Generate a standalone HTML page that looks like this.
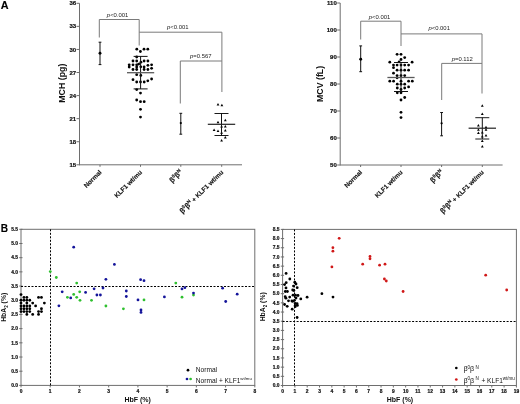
<!DOCTYPE html>
<html><head><meta charset="utf-8"><style>
html,body{margin:0;padding:0;background:#fff;}
body{width:520px;height:404px;overflow:hidden;}
svg{display:block;font-family:"Liberation Sans", sans-serif;will-change:transform;}
</style></head><body>
<svg width="520" height="404" viewBox="0 0 520 404">
<line x1="79.5" y1="3.3" x2="79.5" y2="165.3" stroke="#6e6e6e" stroke-width="1" />
<line x1="76.5" y1="164.79000000000002" x2="79.5" y2="164.79000000000002" stroke="#6e6e6e" stroke-width="1" />
<text x="76.1" y="166.89000000000001" font-size="6" text-anchor="end" font-weight="bold" fill="#111" stroke="#111" stroke-width="0.2">15</text>
<line x1="76.5" y1="141.72000000000003" x2="79.5" y2="141.72000000000003" stroke="#6e6e6e" stroke-width="1" />
<text x="76.1" y="143.82000000000002" font-size="6" text-anchor="end" font-weight="bold" fill="#111" stroke="#111" stroke-width="0.2">18</text>
<line x1="76.5" y1="118.65" x2="79.5" y2="118.65" stroke="#6e6e6e" stroke-width="1" />
<text x="76.1" y="120.75" font-size="6" text-anchor="end" font-weight="bold" fill="#111" stroke="#111" stroke-width="0.2">21</text>
<line x1="76.5" y1="95.58" x2="79.5" y2="95.58" stroke="#6e6e6e" stroke-width="1" />
<text x="76.1" y="97.67999999999999" font-size="6" text-anchor="end" font-weight="bold" fill="#111" stroke="#111" stroke-width="0.2">24</text>
<line x1="76.5" y1="72.51" x2="79.5" y2="72.51" stroke="#6e6e6e" stroke-width="1" />
<text x="76.1" y="74.61" font-size="6" text-anchor="end" font-weight="bold" fill="#111" stroke="#111" stroke-width="0.2">27</text>
<line x1="76.5" y1="49.44" x2="79.5" y2="49.44" stroke="#6e6e6e" stroke-width="1" />
<text x="76.1" y="51.54" font-size="6" text-anchor="end" font-weight="bold" fill="#111" stroke="#111" stroke-width="0.2">30</text>
<line x1="76.5" y1="26.37" x2="79.5" y2="26.37" stroke="#6e6e6e" stroke-width="1" />
<text x="76.1" y="28.470000000000002" font-size="6" text-anchor="end" font-weight="bold" fill="#111" stroke="#111" stroke-width="0.2">33</text>
<line x1="76.5" y1="3.3" x2="79.5" y2="3.3" stroke="#6e6e6e" stroke-width="1" />
<text x="76.1" y="5.4" font-size="6" text-anchor="end" font-weight="bold" fill="#111" stroke="#111" stroke-width="0.2">36</text>
<line x1="79.5" y1="164.8" x2="242" y2="164.8" stroke="#6e6e6e" stroke-width="1" />
<line x1="100" y1="164.8" x2="100" y2="166.8" stroke="#6e6e6e" stroke-width="1" />
<line x1="140.5" y1="164.8" x2="140.5" y2="166.8" stroke="#6e6e6e" stroke-width="1" />
<line x1="180.8" y1="164.8" x2="180.8" y2="166.8" stroke="#6e6e6e" stroke-width="1" />
<line x1="221.7" y1="164.8" x2="221.7" y2="166.8" stroke="#6e6e6e" stroke-width="1" />
<text x="0" y="0" font-size="8.8" font-weight="bold" text-anchor="middle" fill="#111" transform="translate(64.6,83.2) rotate(-90)">MCH (pg)</text>
<path d="M99.3,37.5V19.5H139.2V45.5" fill="none" stroke="#7a7a7a" stroke-width="1"/>
<path d="M139.2,32.2H221.9V92" fill="none" stroke="#7a7a7a" stroke-width="1"/>
<path d="M180.3,103.5V61H221.9" fill="none" stroke="#7a7a7a" stroke-width="1"/>
<text x="117.6" y="16.7" font-size="5.9" text-anchor="middle" fill="#222"><tspan font-style="italic">p</tspan>&lt;0.001</text>
<text x="177.8" y="28.7" font-size="5.9" text-anchor="middle" fill="#222"><tspan font-style="italic">p</tspan>&lt;0.001</text>
<text x="200.8" y="58.4" font-size="5.9" text-anchor="middle" fill="#222"><tspan font-style="italic">p</tspan>=0.567</text>
<line x1="100" y1="42.2" x2="100" y2="64.6" stroke="#111" stroke-width="1" />
<line x1="98.6" y1="42.2" x2="101.4" y2="42.2" stroke="#111" stroke-width="1" />
<line x1="98.6" y1="64.6" x2="101.4" y2="64.6" stroke="#111" stroke-width="1" />
<circle cx="100" cy="53.3" r="1.4560000000000002" fill="#000"/>
<line x1="180.8" y1="113.3" x2="180.8" y2="134.2" stroke="#111" stroke-width="1" />
<line x1="179.4" y1="113.3" x2="182.20000000000002" y2="113.3" stroke="#111" stroke-width="1" />
<line x1="179.4" y1="134.2" x2="182.20000000000002" y2="134.2" stroke="#111" stroke-width="1" />
<circle cx="180.8" cy="123.1" r="1.12" fill="#000"/>
<circle cx="136.8" cy="49.2" r="1.4000000000000001" fill="#000"/>
<circle cx="144" cy="49.2" r="1.4000000000000001" fill="#000"/>
<circle cx="147.8" cy="49.2" r="1.4000000000000001" fill="#000"/>
<circle cx="140.4" cy="51.5" r="1.4000000000000001" fill="#000"/>
<circle cx="136.7" cy="57" r="1.4000000000000001" fill="#000"/>
<circle cx="133" cy="61" r="1.4000000000000001" fill="#000"/>
<circle cx="136.7" cy="61" r="1.4000000000000001" fill="#000"/>
<circle cx="144.1" cy="61" r="1.4000000000000001" fill="#000"/>
<circle cx="147.9" cy="61" r="1.4000000000000001" fill="#000"/>
<circle cx="140.9" cy="62.2" r="1.4000000000000001" fill="#000"/>
<circle cx="138.7" cy="64.1" r="1.4000000000000001" fill="#000"/>
<circle cx="129.2" cy="64.8" r="1.4000000000000001" fill="#000"/>
<circle cx="133" cy="64.8" r="1.4000000000000001" fill="#000"/>
<circle cx="136.7" cy="64.8" r="1.4000000000000001" fill="#000"/>
<circle cx="147.9" cy="65.3" r="1.4000000000000001" fill="#000"/>
<circle cx="151.6" cy="64.8" r="1.4000000000000001" fill="#000"/>
<circle cx="129.2" cy="67" r="1.4000000000000001" fill="#000"/>
<circle cx="136.7" cy="67" r="1.4000000000000001" fill="#000"/>
<circle cx="140.8" cy="66.8" r="1.4000000000000001" fill="#000"/>
<circle cx="144.1" cy="67" r="1.4000000000000001" fill="#000"/>
<circle cx="151.6" cy="68.3" r="1.4000000000000001" fill="#000"/>
<circle cx="133" cy="69.5" r="1.4000000000000001" fill="#000"/>
<circle cx="136.7" cy="69.5" r="1.4000000000000001" fill="#000"/>
<circle cx="144.1" cy="69.5" r="1.4000000000000001" fill="#000"/>
<circle cx="147.9" cy="69.5" r="1.4000000000000001" fill="#000"/>
<circle cx="136.7" cy="74.7" r="1.4000000000000001" fill="#000"/>
<circle cx="140.8" cy="75.4" r="1.4000000000000001" fill="#000"/>
<circle cx="133" cy="79.7" r="1.4000000000000001" fill="#000"/>
<circle cx="151.6" cy="79" r="1.4000000000000001" fill="#000"/>
<circle cx="147.8" cy="80.8" r="1.4000000000000001" fill="#000"/>
<circle cx="136.7" cy="82" r="1.4000000000000001" fill="#000"/>
<circle cx="140.5" cy="82" r="1.4000000000000001" fill="#000"/>
<circle cx="144.2" cy="82" r="1.4000000000000001" fill="#000"/>
<circle cx="136.7" cy="89.6" r="1.4000000000000001" fill="#000"/>
<circle cx="140.5" cy="93.1" r="1.4000000000000001" fill="#000"/>
<circle cx="136.7" cy="100" r="1.4000000000000001" fill="#000"/>
<circle cx="140.5" cy="101.7" r="1.4000000000000001" fill="#000"/>
<circle cx="144.2" cy="101.7" r="1.4000000000000001" fill="#000"/>
<circle cx="140.5" cy="109.3" r="1.4000000000000001" fill="#000"/>
<circle cx="140.5" cy="117.1" r="1.4000000000000001" fill="#000"/>
<line x1="140.6" y1="56.4" x2="140.6" y2="88.9" stroke="#111" stroke-width="1" />
<line x1="133.6" y1="56.4" x2="147.6" y2="56.4" stroke="#111" stroke-width="1" />
<line x1="133.6" y1="88.9" x2="147.6" y2="88.9" stroke="#111" stroke-width="1" />
<line x1="127.0" y1="72.7" x2="154.2" y2="72.7" stroke="#5a5a5a" stroke-width="1.3" />
<path d="M216.60,105.52L219.40,105.52L218.00,103.00Z" fill="#000"/>
<path d="M220.50,106.32L223.30,106.32L221.90,103.80Z" fill="#000"/>
<path d="M223.90,121.22L226.70,121.22L225.30,118.70Z" fill="#000"/>
<path d="M216.60,123.22L219.40,123.22L218.00,120.70Z" fill="#000"/>
<path d="M220.20,127.62L223.00,127.62L221.60,125.10Z" fill="#000"/>
<path d="M223.90,127.62L226.70,127.62L225.30,125.10Z" fill="#000"/>
<path d="M212.70,131.12L215.50,131.12L214.10,128.60Z" fill="#000"/>
<path d="M216.60,131.92L219.40,131.92L218.00,129.40Z" fill="#000"/>
<path d="M223.90,131.42L226.70,131.42L225.30,128.90Z" fill="#000"/>
<path d="M220.20,133.82L223.00,133.82L221.60,131.30Z" fill="#000"/>
<path d="M223.90,138.62L226.70,138.62L225.30,136.10Z" fill="#000"/>
<path d="M220.20,141.52L223.00,141.52L221.60,139.00Z" fill="#000"/>
<line x1="221.5" y1="113.5" x2="221.5" y2="135.5" stroke="#111" stroke-width="1" />
<line x1="214.5" y1="113.5" x2="228.5" y2="113.5" stroke="#000" stroke-width="0.9" />
<line x1="214.5" y1="135.5" x2="228.5" y2="135.5" stroke="#000" stroke-width="0.9" />
<line x1="207.8" y1="124.3" x2="235.2" y2="124.3" stroke="#222" stroke-width="1.2" />
<text x="0" y="0" font-size="6.4" font-weight="bold" text-anchor="end" fill="#111" stroke="#111" stroke-width="0.15" transform="translate(102.0,172.7) rotate(-45)">Normal</text>
<text x="0" y="0" font-size="6.4" font-weight="bold" text-anchor="end" fill="#111" stroke="#111" stroke-width="0.15" transform="translate(142.5,172.7) rotate(-45)">KLF1 wt/mu</text>
<text x="0" y="0" font-size="6.4" font-weight="bold" text-anchor="end" fill="#111" stroke="#111" stroke-width="0.15" transform="translate(182.8,172.7) rotate(-45)"><tspan font-size="7.4">&#946;</tspan><tspan font-size="4.6" dy="-2.8">0</tspan><tspan font-size="7.4" dy="2.8">&#946;</tspan><tspan font-size="4.6" dy="-2.8">N</tspan></text>
<text x="0" y="0" font-size="6.4" font-weight="bold" text-anchor="end" fill="#111" stroke="#111" stroke-width="0.15" transform="translate(223.7,172.7) rotate(-45)"><tspan font-size="7.4">&#946;</tspan><tspan font-size="4.6" dy="-2.8">0</tspan><tspan font-size="7.4" dy="2.8">&#946;</tspan><tspan font-size="4.6" dy="-2.8">N</tspan><tspan dy="2.8"> + KLF1 wt/mu</tspan></text>
<line x1="340.2" y1="3.0" x2="340.2" y2="165.5" stroke="#6e6e6e" stroke-width="1" />
<line x1="337.2" y1="165.0" x2="340.2" y2="165.0" stroke="#6e6e6e" stroke-width="1" />
<text x="336.8" y="167.1" font-size="6" text-anchor="end" font-weight="bold" fill="#111" stroke="#111" stroke-width="0.2">50</text>
<line x1="337.2" y1="138.0" x2="340.2" y2="138.0" stroke="#6e6e6e" stroke-width="1" />
<text x="336.8" y="140.1" font-size="6" text-anchor="end" font-weight="bold" fill="#111" stroke="#111" stroke-width="0.2">60</text>
<line x1="337.2" y1="111.0" x2="340.2" y2="111.0" stroke="#6e6e6e" stroke-width="1" />
<text x="336.8" y="113.1" font-size="6" text-anchor="end" font-weight="bold" fill="#111" stroke="#111" stroke-width="0.2">70</text>
<line x1="337.2" y1="84.0" x2="340.2" y2="84.0" stroke="#6e6e6e" stroke-width="1" />
<text x="336.8" y="86.1" font-size="6" text-anchor="end" font-weight="bold" fill="#111" stroke="#111" stroke-width="0.2">80</text>
<line x1="337.2" y1="57.0" x2="340.2" y2="57.0" stroke="#6e6e6e" stroke-width="1" />
<text x="336.8" y="59.1" font-size="6" text-anchor="end" font-weight="bold" fill="#111" stroke="#111" stroke-width="0.2">90</text>
<line x1="337.2" y1="30.0" x2="340.2" y2="30.0" stroke="#6e6e6e" stroke-width="1" />
<text x="336.8" y="32.1" font-size="6" text-anchor="end" font-weight="bold" fill="#111" stroke="#111" stroke-width="0.2">100</text>
<line x1="337.2" y1="3.0" x2="340.2" y2="3.0" stroke="#6e6e6e" stroke-width="1" />
<text x="336.8" y="5.1" font-size="6" text-anchor="end" font-weight="bold" fill="#111" stroke="#111" stroke-width="0.2">110</text>
<line x1="340.2" y1="165" x2="502.6" y2="165" stroke="#6e6e6e" stroke-width="1" />
<line x1="360.6" y1="165" x2="360.6" y2="167" stroke="#6e6e6e" stroke-width="1" />
<line x1="401" y1="165" x2="401" y2="167" stroke="#6e6e6e" stroke-width="1" />
<line x1="441.6" y1="165" x2="441.6" y2="167" stroke="#6e6e6e" stroke-width="1" />
<line x1="482.3" y1="165" x2="482.3" y2="167" stroke="#6e6e6e" stroke-width="1" />
<text x="0" y="0" font-size="8.8" font-weight="bold" text-anchor="middle" fill="#111" transform="translate(323.3,83.9) rotate(-90)">MCV (fL)</text>
<path d="M360.7,39.5V21.2H401V46" fill="none" stroke="#7a7a7a" stroke-width="1"/>
<path d="M401,33.9H482V93.5" fill="none" stroke="#7a7a7a" stroke-width="1"/>
<path d="M441.7,100V63.4H482" fill="none" stroke="#7a7a7a" stroke-width="1"/>
<text x="379.5" y="18.7" font-size="5.9" text-anchor="middle" fill="#222"><tspan font-style="italic">p</tspan>&lt;0.001</text>
<text x="439.2" y="30.3" font-size="5.9" text-anchor="middle" fill="#222"><tspan font-style="italic">p</tspan>&lt;0.001</text>
<text x="462.2" y="60.5" font-size="5.9" text-anchor="middle" fill="#222"><tspan font-style="italic">p</tspan>=0.112</text>
<line x1="360.7" y1="45.9" x2="360.7" y2="71.7" stroke="#111" stroke-width="1" />
<line x1="359.3" y1="45.9" x2="362.09999999999997" y2="45.9" stroke="#111" stroke-width="1" />
<line x1="359.3" y1="71.7" x2="362.09999999999997" y2="71.7" stroke="#111" stroke-width="1" />
<circle cx="360.7" cy="59.2" r="1.4560000000000002" fill="#000"/>
<line x1="441.6" y1="112.5" x2="441.6" y2="135.8" stroke="#111" stroke-width="1" />
<line x1="440.20000000000005" y1="112.5" x2="443.0" y2="112.5" stroke="#111" stroke-width="1" />
<line x1="440.20000000000005" y1="135.8" x2="443.0" y2="135.8" stroke="#111" stroke-width="1" />
<circle cx="441.6" cy="123.3" r="1.12" fill="#000"/>
<circle cx="397.1" cy="54.3" r="1.4000000000000001" fill="#000"/>
<circle cx="401" cy="54.3" r="1.4000000000000001" fill="#000"/>
<circle cx="404.7" cy="57.6" r="1.4000000000000001" fill="#000"/>
<circle cx="401" cy="59.5" r="1.4000000000000001" fill="#000"/>
<circle cx="389.8" cy="62.2" r="1.4000000000000001" fill="#000"/>
<circle cx="412.1" cy="62.2" r="1.4000000000000001" fill="#000"/>
<circle cx="399.1" cy="61.9" r="1.4000000000000001" fill="#000"/>
<circle cx="393.5" cy="65.1" r="1.4000000000000001" fill="#000"/>
<circle cx="397.1" cy="65.1" r="1.4000000000000001" fill="#000"/>
<circle cx="401" cy="65.1" r="1.4000000000000001" fill="#000"/>
<circle cx="404.7" cy="65.1" r="1.4000000000000001" fill="#000"/>
<circle cx="408.6" cy="65.1" r="1.4000000000000001" fill="#000"/>
<circle cx="393.5" cy="67.7" r="1.4000000000000001" fill="#000"/>
<circle cx="397.1" cy="70.2" r="1.4000000000000001" fill="#000"/>
<circle cx="401" cy="70.2" r="1.4000000000000001" fill="#000"/>
<circle cx="404.7" cy="70.2" r="1.4000000000000001" fill="#000"/>
<circle cx="408.6" cy="70.2" r="1.4000000000000001" fill="#000"/>
<circle cx="393.5" cy="73.2" r="1.4000000000000001" fill="#000"/>
<circle cx="397.1" cy="75.6" r="1.4000000000000001" fill="#000"/>
<circle cx="401" cy="75.6" r="1.4000000000000001" fill="#000"/>
<circle cx="404.7" cy="75.6" r="1.4000000000000001" fill="#000"/>
<circle cx="397.1" cy="77.8" r="1.4000000000000001" fill="#000"/>
<circle cx="389.8" cy="81.2" r="1.4000000000000001" fill="#000"/>
<circle cx="393.6" cy="81.2" r="1.4000000000000001" fill="#000"/>
<circle cx="401" cy="81.2" r="1.4000000000000001" fill="#000"/>
<circle cx="408.6" cy="81.2" r="1.4000000000000001" fill="#000"/>
<circle cx="412.3" cy="81.2" r="1.4000000000000001" fill="#000"/>
<circle cx="397.3" cy="84.2" r="1.4000000000000001" fill="#000"/>
<circle cx="401" cy="84.2" r="1.4000000000000001" fill="#000"/>
<circle cx="404.7" cy="84.2" r="1.4000000000000001" fill="#000"/>
<circle cx="408.6" cy="86.9" r="1.4000000000000001" fill="#000"/>
<circle cx="397.3" cy="88" r="1.4000000000000001" fill="#000"/>
<circle cx="404.7" cy="88" r="1.4000000000000001" fill="#000"/>
<circle cx="401" cy="89.5" r="1.4000000000000001" fill="#000"/>
<circle cx="397.3" cy="92.8" r="1.4000000000000001" fill="#000"/>
<circle cx="401" cy="92.8" r="1.4000000000000001" fill="#000"/>
<circle cx="404.7" cy="97.5" r="1.4000000000000001" fill="#000"/>
<circle cx="401" cy="100" r="1.4000000000000001" fill="#000"/>
<circle cx="401" cy="112.3" r="1.4000000000000001" fill="#000"/>
<circle cx="401" cy="117.6" r="1.4000000000000001" fill="#000"/>
<line x1="401" y1="62.5" x2="401" y2="91.5" stroke="#111" stroke-width="1" />
<line x1="394" y1="62.5" x2="408" y2="62.5" stroke="#111" stroke-width="1" />
<line x1="394" y1="91.5" x2="408" y2="91.5" stroke="#111" stroke-width="1" />
<line x1="387.4" y1="77.5" x2="414.6" y2="77.5" stroke="#5a5a5a" stroke-width="1.3" />
<path d="M480.90,106.72L483.70,106.72L482.30,104.20Z" fill="#000"/>
<path d="M480.90,115.02L483.70,115.02L482.30,112.50Z" fill="#000"/>
<path d="M477.00,126.52L479.80,126.52L478.40,124.00Z" fill="#000"/>
<path d="M484.60,128.32L487.40,128.32L486.00,125.80Z" fill="#000"/>
<path d="M477.00,130.82L479.80,130.82L478.40,128.30Z" fill="#000"/>
<path d="M484.60,130.82L487.40,130.82L486.00,128.30Z" fill="#000"/>
<path d="M477.00,133.92L479.80,133.92L478.40,131.40Z" fill="#000"/>
<path d="M480.90,133.52L483.70,133.52L482.30,131.00Z" fill="#000"/>
<path d="M484.60,136.42L487.40,136.42L486.00,133.90Z" fill="#000"/>
<path d="M480.90,137.62L483.70,137.62L482.30,135.10Z" fill="#000"/>
<path d="M480.90,141.92L483.70,141.92L482.30,139.40Z" fill="#000"/>
<path d="M480.90,147.52L483.70,147.52L482.30,145.00Z" fill="#000"/>
<line x1="482.3" y1="117.7" x2="482.3" y2="139" stroke="#111" stroke-width="1" />
<line x1="475.3" y1="117.7" x2="489.3" y2="117.7" stroke="#000" stroke-width="0.9" />
<line x1="475.3" y1="139" x2="489.3" y2="139" stroke="#000" stroke-width="0.9" />
<line x1="468.6" y1="128.2" x2="496.0" y2="128.2" stroke="#222" stroke-width="1.2" />
<text x="0" y="0" font-size="6.4" font-weight="bold" text-anchor="end" fill="#111" stroke="#111" stroke-width="0.15" transform="translate(362.6,172.7) rotate(-45)">Normal</text>
<text x="0" y="0" font-size="6.4" font-weight="bold" text-anchor="end" fill="#111" stroke="#111" stroke-width="0.15" transform="translate(403.0,172.7) rotate(-45)">KLF1 wt/mu</text>
<text x="0" y="0" font-size="6.4" font-weight="bold" text-anchor="end" fill="#111" stroke="#111" stroke-width="0.15" transform="translate(443.6,172.7) rotate(-45)"><tspan font-size="7.4">&#946;</tspan><tspan font-size="4.6" dy="-2.8">0</tspan><tspan font-size="7.4" dy="2.8">&#946;</tspan><tspan font-size="4.6" dy="-2.8">N</tspan></text>
<text x="0" y="0" font-size="6.4" font-weight="bold" text-anchor="end" fill="#111" stroke="#111" stroke-width="0.15" transform="translate(484.3,172.7) rotate(-45)"><tspan font-size="7.4">&#946;</tspan><tspan font-size="4.6" dy="-2.8">0</tspan><tspan font-size="7.4" dy="2.8">&#946;</tspan><tspan font-size="4.6" dy="-2.8">N</tspan><tspan dy="2.8"> + KLF1 wt/mu</tspan></text>
<text x="0.7" y="8.9" font-size="10.8" font-weight="bold" fill="#000" stroke="#000" stroke-width="0.15">A</text>
<text x="0.8" y="231.8" font-size="10.1" font-weight="bold" fill="#000" stroke="#000" stroke-width="0.12">B</text>
<rect x="21.0" y="229.3" width="233.8" height="156.09999999999997" fill="none" stroke="#6e6e6e" stroke-width="1"/>
<line x1="19.2" y1="385.4" x2="22.5" y2="385.4" stroke="#6e6e6e" stroke-width="1" />
<text x="18.0" y="387.09999999999997" font-size="4.9" text-anchor="end" font-weight="bold" fill="#111" stroke="#111" stroke-width="0.2">0.0</text>
<line x1="19.2" y1="371.2090909090909" x2="22.5" y2="371.2090909090909" stroke="#6e6e6e" stroke-width="1" />
<text x="18.0" y="372.9090909090909" font-size="4.9" text-anchor="end" font-weight="bold" fill="#111" stroke="#111" stroke-width="0.2">0.5</text>
<line x1="19.2" y1="357.0181818181818" x2="22.5" y2="357.0181818181818" stroke="#6e6e6e" stroke-width="1" />
<text x="18.0" y="358.7181818181818" font-size="4.9" text-anchor="end" font-weight="bold" fill="#111" stroke="#111" stroke-width="0.2">1.0</text>
<line x1="19.2" y1="342.8272727272727" x2="22.5" y2="342.8272727272727" stroke="#6e6e6e" stroke-width="1" />
<text x="18.0" y="344.5272727272727" font-size="4.9" text-anchor="end" font-weight="bold" fill="#111" stroke="#111" stroke-width="0.2">1.5</text>
<line x1="19.2" y1="328.6363636363636" x2="22.5" y2="328.6363636363636" stroke="#6e6e6e" stroke-width="1" />
<text x="18.0" y="330.3363636363636" font-size="4.9" text-anchor="end" font-weight="bold" fill="#111" stroke="#111" stroke-width="0.2">2.0</text>
<line x1="19.2" y1="314.44545454545454" x2="22.5" y2="314.44545454545454" stroke="#6e6e6e" stroke-width="1" />
<text x="18.0" y="316.1454545454545" font-size="4.9" text-anchor="end" font-weight="bold" fill="#111" stroke="#111" stroke-width="0.2">2.5</text>
<line x1="19.2" y1="300.25454545454545" x2="22.5" y2="300.25454545454545" stroke="#6e6e6e" stroke-width="1" />
<text x="18.0" y="301.95454545454544" font-size="4.9" text-anchor="end" font-weight="bold" fill="#111" stroke="#111" stroke-width="0.2">3.0</text>
<line x1="19.2" y1="286.06363636363636" x2="22.5" y2="286.06363636363636" stroke="#6e6e6e" stroke-width="1" />
<text x="18.0" y="287.76363636363635" font-size="4.9" text-anchor="end" font-weight="bold" fill="#111" stroke="#111" stroke-width="0.2">3.5</text>
<line x1="19.2" y1="271.8727272727273" x2="22.5" y2="271.8727272727273" stroke="#6e6e6e" stroke-width="1" />
<text x="18.0" y="273.57272727272726" font-size="4.9" text-anchor="end" font-weight="bold" fill="#111" stroke="#111" stroke-width="0.2">4.0</text>
<line x1="19.2" y1="257.6818181818182" x2="22.5" y2="257.6818181818182" stroke="#6e6e6e" stroke-width="1" />
<text x="18.0" y="259.3818181818182" font-size="4.9" text-anchor="end" font-weight="bold" fill="#111" stroke="#111" stroke-width="0.2">4.5</text>
<line x1="19.2" y1="243.4909090909091" x2="22.5" y2="243.4909090909091" stroke="#6e6e6e" stroke-width="1" />
<text x="18.0" y="245.1909090909091" font-size="4.9" text-anchor="end" font-weight="bold" fill="#111" stroke="#111" stroke-width="0.2">5.0</text>
<line x1="19.2" y1="229.3" x2="22.5" y2="229.3" stroke="#6e6e6e" stroke-width="1" />
<text x="18.0" y="231.0" font-size="4.9" text-anchor="end" font-weight="bold" fill="#111" stroke="#111" stroke-width="0.2">5.5</text>
<line x1="21.0" y1="385.4" x2="21.0" y2="387.4" stroke="#6e6e6e" stroke-width="1" />
<text x="21.0" y="392.79999999999995" font-size="4.9" text-anchor="middle" font-weight="bold" fill="#111" stroke="#111" stroke-width="0.2">0</text>
<line x1="50.225" y1="385.4" x2="50.225" y2="387.4" stroke="#6e6e6e" stroke-width="1" />
<text x="50.225" y="392.79999999999995" font-size="4.9" text-anchor="middle" font-weight="bold" fill="#111" stroke="#111" stroke-width="0.2">1</text>
<line x1="79.45" y1="385.4" x2="79.45" y2="387.4" stroke="#6e6e6e" stroke-width="1" />
<text x="79.45" y="392.79999999999995" font-size="4.9" text-anchor="middle" font-weight="bold" fill="#111" stroke="#111" stroke-width="0.2">2</text>
<line x1="108.67500000000001" y1="385.4" x2="108.67500000000001" y2="387.4" stroke="#6e6e6e" stroke-width="1" />
<text x="108.67500000000001" y="392.79999999999995" font-size="4.9" text-anchor="middle" font-weight="bold" fill="#111" stroke="#111" stroke-width="0.2">3</text>
<line x1="137.9" y1="385.4" x2="137.9" y2="387.4" stroke="#6e6e6e" stroke-width="1" />
<text x="137.9" y="392.79999999999995" font-size="4.9" text-anchor="middle" font-weight="bold" fill="#111" stroke="#111" stroke-width="0.2">4</text>
<line x1="167.125" y1="385.4" x2="167.125" y2="387.4" stroke="#6e6e6e" stroke-width="1" />
<text x="167.125" y="392.79999999999995" font-size="4.9" text-anchor="middle" font-weight="bold" fill="#111" stroke="#111" stroke-width="0.2">5</text>
<line x1="196.35000000000002" y1="385.4" x2="196.35000000000002" y2="387.4" stroke="#6e6e6e" stroke-width="1" />
<text x="196.35000000000002" y="392.79999999999995" font-size="4.9" text-anchor="middle" font-weight="bold" fill="#111" stroke="#111" stroke-width="0.2">6</text>
<line x1="225.57500000000002" y1="385.4" x2="225.57500000000002" y2="387.4" stroke="#6e6e6e" stroke-width="1" />
<text x="225.57500000000002" y="392.79999999999995" font-size="4.9" text-anchor="middle" font-weight="bold" fill="#111" stroke="#111" stroke-width="0.2">7</text>
<line x1="254.8" y1="385.4" x2="254.8" y2="387.4" stroke="#6e6e6e" stroke-width="1" />
<text x="254.8" y="392.79999999999995" font-size="4.9" text-anchor="middle" font-weight="bold" fill="#111" stroke="#111" stroke-width="0.2">8</text>
<line x1="50.5" y1="229.3" x2="50.5" y2="385.4" stroke="#000" stroke-width="1" stroke-dasharray="2,1.5"/>
<line x1="21.0" y1="286.5" x2="254.8" y2="286.5" stroke="#000" stroke-width="1" stroke-dasharray="2,1.5"/>
<text x="0" y="0" font-size="6.8" font-weight="bold" text-anchor="middle" fill="#111" transform="translate(6.2,307.3) rotate(-90)">HbA<tspan font-size="4.6" dy="1.6">2</tspan><tspan dy="-1.6"> (%)</tspan></text>
<text x="137.7" y="401.6" font-size="7" text-anchor="middle" font-weight="bold" fill="#111" >HbF (%)</text>
<circle cx="21.0" cy="294.5781818181818" r="1.4000000000000001" fill="#000"/>
<circle cx="23.9225" cy="297.4163636363636" r="1.4000000000000001" fill="#000"/>
<circle cx="26.845" cy="297.4163636363636" r="1.4000000000000001" fill="#000"/>
<circle cx="38.535" cy="297.4163636363636" r="1.4000000000000001" fill="#000"/>
<circle cx="41.457499999999996" cy="297.4163636363636" r="1.4000000000000001" fill="#000"/>
<circle cx="21.0" cy="300.25454545454545" r="1.4000000000000001" fill="#000"/>
<circle cx="23.9225" cy="300.25454545454545" r="1.4000000000000001" fill="#000"/>
<circle cx="26.845" cy="300.25454545454545" r="1.4000000000000001" fill="#000"/>
<circle cx="29.7675" cy="300.25454545454545" r="1.4000000000000001" fill="#000"/>
<circle cx="21.0" cy="303.0927272727273" r="1.4000000000000001" fill="#000"/>
<circle cx="26.845" cy="303.0927272727273" r="1.4000000000000001" fill="#000"/>
<circle cx="32.69" cy="303.0927272727273" r="1.4000000000000001" fill="#000"/>
<circle cx="44.38" cy="303.0927272727273" r="1.4000000000000001" fill="#000"/>
<circle cx="21.0" cy="305.9309090909091" r="1.4000000000000001" fill="#000"/>
<circle cx="23.9225" cy="305.9309090909091" r="1.4000000000000001" fill="#000"/>
<circle cx="26.845" cy="305.9309090909091" r="1.4000000000000001" fill="#000"/>
<circle cx="29.7675" cy="305.9309090909091" r="1.4000000000000001" fill="#000"/>
<circle cx="35.6125" cy="305.9309090909091" r="1.4000000000000001" fill="#000"/>
<circle cx="21.0" cy="308.7690909090909" r="1.4000000000000001" fill="#000"/>
<circle cx="23.9225" cy="308.7690909090909" r="1.4000000000000001" fill="#000"/>
<circle cx="26.845" cy="308.7690909090909" r="1.4000000000000001" fill="#000"/>
<circle cx="29.7675" cy="308.7690909090909" r="1.4000000000000001" fill="#000"/>
<circle cx="41.457499999999996" cy="308.7690909090909" r="1.4000000000000001" fill="#000"/>
<circle cx="21.0" cy="311.60727272727274" r="1.4000000000000001" fill="#000"/>
<circle cx="23.9225" cy="311.60727272727274" r="1.4000000000000001" fill="#000"/>
<circle cx="26.845" cy="311.60727272727274" r="1.4000000000000001" fill="#000"/>
<circle cx="29.7675" cy="311.60727272727274" r="1.4000000000000001" fill="#000"/>
<circle cx="38.535" cy="311.60727272727274" r="1.4000000000000001" fill="#000"/>
<circle cx="41.457499999999996" cy="311.60727272727274" r="1.4000000000000001" fill="#000"/>
<circle cx="26.845" cy="314.44545454545454" r="1.4000000000000001" fill="#000"/>
<circle cx="32.69" cy="314.44545454545454" r="1.4000000000000001" fill="#000"/>
<circle cx="38.535" cy="314.44545454545454" r="1.4000000000000001" fill="#000"/>
<circle cx="50.3" cy="271.6" r="1.4000000000000001" fill="#2fc02f"/>
<circle cx="56.3" cy="277.5" r="1.4000000000000001" fill="#2fc02f"/>
<circle cx="76.7" cy="283.1" r="1.4000000000000001" fill="#2fc02f"/>
<circle cx="79.7" cy="291.8" r="1.4000000000000001" fill="#2fc02f"/>
<circle cx="73.7" cy="294.4" r="1.4000000000000001" fill="#2fc02f"/>
<circle cx="67.4" cy="297.3" r="1.4000000000000001" fill="#2fc02f"/>
<circle cx="76.7" cy="297.3" r="1.4000000000000001" fill="#2fc02f"/>
<circle cx="80" cy="300.3" r="1.4000000000000001" fill="#2fc02f"/>
<circle cx="91.5" cy="300.3" r="1.4000000000000001" fill="#2fc02f"/>
<circle cx="105.9" cy="306" r="1.4000000000000001" fill="#2fc02f"/>
<circle cx="123.4" cy="308.8" r="1.4000000000000001" fill="#2fc02f"/>
<circle cx="144" cy="299.9" r="1.4000000000000001" fill="#2fc02f"/>
<circle cx="175.8" cy="283.1" r="1.4000000000000001" fill="#2fc02f"/>
<circle cx="182" cy="297.2" r="1.4000000000000001" fill="#2fc02f"/>
<circle cx="193.5" cy="295.1" r="1.4000000000000001" fill="#2fc02f"/>
<circle cx="73.7" cy="247.2" r="1.4000000000000001" fill="#14149a"/>
<circle cx="114.4" cy="264.4" r="1.4000000000000001" fill="#14149a"/>
<circle cx="105.9" cy="279.3" r="1.4000000000000001" fill="#14149a"/>
<circle cx="103" cy="288" r="1.4000000000000001" fill="#14149a"/>
<circle cx="140.6" cy="279.7" r="1.4000000000000001" fill="#14149a"/>
<circle cx="144" cy="280.7" r="1.4000000000000001" fill="#14149a"/>
<circle cx="126.3" cy="291" r="1.4000000000000001" fill="#14149a"/>
<circle cx="94.1" cy="288.8" r="1.4000000000000001" fill="#14149a"/>
<circle cx="62.2" cy="291.8" r="1.4000000000000001" fill="#14149a"/>
<circle cx="85.6" cy="292.4" r="1.4000000000000001" fill="#14149a"/>
<circle cx="96.9" cy="295" r="1.4000000000000001" fill="#14149a"/>
<circle cx="100.4" cy="295" r="1.4000000000000001" fill="#14149a"/>
<circle cx="70.7" cy="297.9" r="1.4000000000000001" fill="#14149a"/>
<circle cx="58.9" cy="305.8" r="1.4000000000000001" fill="#14149a"/>
<circle cx="126.3" cy="296.5" r="1.4000000000000001" fill="#14149a"/>
<circle cx="138" cy="299.9" r="1.4000000000000001" fill="#14149a"/>
<circle cx="164.4" cy="296.9" r="1.4000000000000001" fill="#14149a"/>
<circle cx="141" cy="310" r="1.4000000000000001" fill="#14149a"/>
<circle cx="141" cy="312.4" r="1.4000000000000001" fill="#14149a"/>
<circle cx="182" cy="288.9" r="1.4000000000000001" fill="#14149a"/>
<circle cx="184.9" cy="287.7" r="1.4000000000000001" fill="#14149a"/>
<circle cx="193.5" cy="293.1" r="1.4000000000000001" fill="#14149a"/>
<circle cx="222.6" cy="288.2" r="1.4000000000000001" fill="#14149a"/>
<circle cx="237.2" cy="294.2" r="1.4000000000000001" fill="#14149a"/>
<circle cx="225.7" cy="301.5" r="1.4000000000000001" fill="#14149a"/>
<circle cx="188" cy="370.2" r="1.344" fill="#000"/>
<text x="195.8" y="372.4" font-size="6.6" text-anchor="start" font-weight="normal" fill="#111" >Normal</text>
<circle cx="187" cy="379" r="1.344" fill="#14149a"/>
<circle cx="190.6" cy="379" r="1.344" fill="#2fc02f"/>
<text x="195.8" y="382.7" font-size="6.6" fill="#111">Normal + KLF1<tspan font-size="4.3" dy="-3">wt/mu</tspan></text>
<rect x="282.6" y="229.4" width="233.79999999999995" height="156.1" fill="none" stroke="#6e6e6e" stroke-width="1"/>
<line x1="280.8" y1="385.5" x2="284.1" y2="385.5" stroke="#6e6e6e" stroke-width="1" />
<text x="279.6" y="387.2" font-size="4.9" text-anchor="end" font-weight="bold" fill="#111" stroke="#111" stroke-width="0.2">0.0</text>
<line x1="280.8" y1="376.3176470588235" x2="284.1" y2="376.3176470588235" stroke="#6e6e6e" stroke-width="1" />
<text x="279.6" y="378.0176470588235" font-size="4.9" text-anchor="end" font-weight="bold" fill="#111" stroke="#111" stroke-width="0.2">0.5</text>
<line x1="280.8" y1="367.13529411764705" x2="284.1" y2="367.13529411764705" stroke="#6e6e6e" stroke-width="1" />
<text x="279.6" y="368.83529411764704" font-size="4.9" text-anchor="end" font-weight="bold" fill="#111" stroke="#111" stroke-width="0.2">1.0</text>
<line x1="280.8" y1="357.9529411764706" x2="284.1" y2="357.9529411764706" stroke="#6e6e6e" stroke-width="1" />
<text x="279.6" y="359.65294117647056" font-size="4.9" text-anchor="end" font-weight="bold" fill="#111" stroke="#111" stroke-width="0.2">1.5</text>
<line x1="280.8" y1="348.7705882352941" x2="284.1" y2="348.7705882352941" stroke="#6e6e6e" stroke-width="1" />
<text x="279.6" y="350.4705882352941" font-size="4.9" text-anchor="end" font-weight="bold" fill="#111" stroke="#111" stroke-width="0.2">2.0</text>
<line x1="280.8" y1="339.5882352941176" x2="284.1" y2="339.5882352941176" stroke="#6e6e6e" stroke-width="1" />
<text x="279.6" y="341.2882352941176" font-size="4.9" text-anchor="end" font-weight="bold" fill="#111" stroke="#111" stroke-width="0.2">2.5</text>
<line x1="280.8" y1="330.4058823529412" x2="284.1" y2="330.4058823529412" stroke="#6e6e6e" stroke-width="1" />
<text x="279.6" y="332.1058823529412" font-size="4.9" text-anchor="end" font-weight="bold" fill="#111" stroke="#111" stroke-width="0.2">3.0</text>
<line x1="280.8" y1="321.22352941176473" x2="284.1" y2="321.22352941176473" stroke="#6e6e6e" stroke-width="1" />
<text x="279.6" y="322.9235294117647" font-size="4.9" text-anchor="end" font-weight="bold" fill="#111" stroke="#111" stroke-width="0.2">3.5</text>
<line x1="280.8" y1="312.04117647058825" x2="284.1" y2="312.04117647058825" stroke="#6e6e6e" stroke-width="1" />
<text x="279.6" y="313.74117647058824" font-size="4.9" text-anchor="end" font-weight="bold" fill="#111" stroke="#111" stroke-width="0.2">4.0</text>
<line x1="280.8" y1="302.8588235294118" x2="284.1" y2="302.8588235294118" stroke="#6e6e6e" stroke-width="1" />
<text x="279.6" y="304.55882352941177" font-size="4.9" text-anchor="end" font-weight="bold" fill="#111" stroke="#111" stroke-width="0.2">4.5</text>
<line x1="280.8" y1="293.6764705882353" x2="284.1" y2="293.6764705882353" stroke="#6e6e6e" stroke-width="1" />
<text x="279.6" y="295.3764705882353" font-size="4.9" text-anchor="end" font-weight="bold" fill="#111" stroke="#111" stroke-width="0.2">5.0</text>
<line x1="280.8" y1="284.49411764705883" x2="284.1" y2="284.49411764705883" stroke="#6e6e6e" stroke-width="1" />
<text x="279.6" y="286.1941176470588" font-size="4.9" text-anchor="end" font-weight="bold" fill="#111" stroke="#111" stroke-width="0.2">5.5</text>
<line x1="280.8" y1="275.31176470588235" x2="284.1" y2="275.31176470588235" stroke="#6e6e6e" stroke-width="1" />
<text x="279.6" y="277.01176470588234" font-size="4.9" text-anchor="end" font-weight="bold" fill="#111" stroke="#111" stroke-width="0.2">6.0</text>
<line x1="280.8" y1="266.1294117647059" x2="284.1" y2="266.1294117647059" stroke="#6e6e6e" stroke-width="1" />
<text x="279.6" y="267.82941176470587" font-size="4.9" text-anchor="end" font-weight="bold" fill="#111" stroke="#111" stroke-width="0.2">6.5</text>
<line x1="280.8" y1="256.9470588235294" x2="284.1" y2="256.9470588235294" stroke="#6e6e6e" stroke-width="1" />
<text x="279.6" y="258.6470588235294" font-size="4.9" text-anchor="end" font-weight="bold" fill="#111" stroke="#111" stroke-width="0.2">7.0</text>
<line x1="280.8" y1="247.76470588235293" x2="284.1" y2="247.76470588235293" stroke="#6e6e6e" stroke-width="1" />
<text x="279.6" y="249.46470588235292" font-size="4.9" text-anchor="end" font-weight="bold" fill="#111" stroke="#111" stroke-width="0.2">7.5</text>
<line x1="280.8" y1="238.58235294117648" x2="284.1" y2="238.58235294117648" stroke="#6e6e6e" stroke-width="1" />
<text x="279.6" y="240.28235294117647" font-size="4.9" text-anchor="end" font-weight="bold" fill="#111" stroke="#111" stroke-width="0.2">8.0</text>
<line x1="280.8" y1="229.4" x2="284.1" y2="229.4" stroke="#6e6e6e" stroke-width="1" />
<text x="279.6" y="231.1" font-size="4.9" text-anchor="end" font-weight="bold" fill="#111" stroke="#111" stroke-width="0.2">8.5</text>
<line x1="282.6" y1="385.5" x2="282.6" y2="387.5" stroke="#6e6e6e" stroke-width="1" />
<text x="282.6" y="392.9" font-size="4.9" text-anchor="middle" font-weight="bold" fill="#111" stroke="#111" stroke-width="0.2">0</text>
<line x1="294.90526315789475" y1="385.5" x2="294.90526315789475" y2="387.5" stroke="#6e6e6e" stroke-width="1" />
<text x="294.90526315789475" y="392.9" font-size="4.9" text-anchor="middle" font-weight="bold" fill="#111" stroke="#111" stroke-width="0.2">1</text>
<line x1="307.2105263157895" y1="385.5" x2="307.2105263157895" y2="387.5" stroke="#6e6e6e" stroke-width="1" />
<text x="307.2105263157895" y="392.9" font-size="4.9" text-anchor="middle" font-weight="bold" fill="#111" stroke="#111" stroke-width="0.2">2</text>
<line x1="319.5157894736842" y1="385.5" x2="319.5157894736842" y2="387.5" stroke="#6e6e6e" stroke-width="1" />
<text x="319.5157894736842" y="392.9" font-size="4.9" text-anchor="middle" font-weight="bold" fill="#111" stroke="#111" stroke-width="0.2">3</text>
<line x1="331.82105263157894" y1="385.5" x2="331.82105263157894" y2="387.5" stroke="#6e6e6e" stroke-width="1" />
<text x="331.82105263157894" y="392.9" font-size="4.9" text-anchor="middle" font-weight="bold" fill="#111" stroke="#111" stroke-width="0.2">4</text>
<line x1="344.12631578947367" y1="385.5" x2="344.12631578947367" y2="387.5" stroke="#6e6e6e" stroke-width="1" />
<text x="344.12631578947367" y="392.9" font-size="4.9" text-anchor="middle" font-weight="bold" fill="#111" stroke="#111" stroke-width="0.2">5</text>
<line x1="356.43157894736845" y1="385.5" x2="356.43157894736845" y2="387.5" stroke="#6e6e6e" stroke-width="1" />
<text x="356.43157894736845" y="392.9" font-size="4.9" text-anchor="middle" font-weight="bold" fill="#111" stroke="#111" stroke-width="0.2">6</text>
<line x1="368.7368421052632" y1="385.5" x2="368.7368421052632" y2="387.5" stroke="#6e6e6e" stroke-width="1" />
<text x="368.7368421052632" y="392.9" font-size="4.9" text-anchor="middle" font-weight="bold" fill="#111" stroke="#111" stroke-width="0.2">7</text>
<line x1="381.0421052631579" y1="385.5" x2="381.0421052631579" y2="387.5" stroke="#6e6e6e" stroke-width="1" />
<text x="381.0421052631579" y="392.9" font-size="4.9" text-anchor="middle" font-weight="bold" fill="#111" stroke="#111" stroke-width="0.2">8</text>
<line x1="393.34736842105264" y1="385.5" x2="393.34736842105264" y2="387.5" stroke="#6e6e6e" stroke-width="1" />
<text x="393.34736842105264" y="392.9" font-size="4.9" text-anchor="middle" font-weight="bold" fill="#111" stroke="#111" stroke-width="0.2">9</text>
<line x1="405.65263157894736" y1="385.5" x2="405.65263157894736" y2="387.5" stroke="#6e6e6e" stroke-width="1" />
<text x="405.65263157894736" y="392.9" font-size="4.9" text-anchor="middle" font-weight="bold" fill="#111" stroke="#111" stroke-width="0.2">10</text>
<line x1="417.9578947368421" y1="385.5" x2="417.9578947368421" y2="387.5" stroke="#6e6e6e" stroke-width="1" />
<text x="417.9578947368421" y="392.9" font-size="4.9" text-anchor="middle" font-weight="bold" fill="#111" stroke="#111" stroke-width="0.2">11</text>
<line x1="430.2631578947369" y1="385.5" x2="430.2631578947369" y2="387.5" stroke="#6e6e6e" stroke-width="1" />
<text x="430.2631578947369" y="392.9" font-size="4.9" text-anchor="middle" font-weight="bold" fill="#111" stroke="#111" stroke-width="0.2">12</text>
<line x1="442.5684210526316" y1="385.5" x2="442.5684210526316" y2="387.5" stroke="#6e6e6e" stroke-width="1" />
<text x="442.5684210526316" y="392.9" font-size="4.9" text-anchor="middle" font-weight="bold" fill="#111" stroke="#111" stroke-width="0.2">13</text>
<line x1="454.87368421052633" y1="385.5" x2="454.87368421052633" y2="387.5" stroke="#6e6e6e" stroke-width="1" />
<text x="454.87368421052633" y="392.9" font-size="4.9" text-anchor="middle" font-weight="bold" fill="#111" stroke="#111" stroke-width="0.2">14</text>
<line x1="467.17894736842106" y1="385.5" x2="467.17894736842106" y2="387.5" stroke="#6e6e6e" stroke-width="1" />
<text x="467.17894736842106" y="392.9" font-size="4.9" text-anchor="middle" font-weight="bold" fill="#111" stroke="#111" stroke-width="0.2">15</text>
<line x1="479.4842105263158" y1="385.5" x2="479.4842105263158" y2="387.5" stroke="#6e6e6e" stroke-width="1" />
<text x="479.4842105263158" y="392.9" font-size="4.9" text-anchor="middle" font-weight="bold" fill="#111" stroke="#111" stroke-width="0.2">16</text>
<line x1="491.7894736842105" y1="385.5" x2="491.7894736842105" y2="387.5" stroke="#6e6e6e" stroke-width="1" />
<text x="491.7894736842105" y="392.9" font-size="4.9" text-anchor="middle" font-weight="bold" fill="#111" stroke="#111" stroke-width="0.2">17</text>
<line x1="504.09473684210525" y1="385.5" x2="504.09473684210525" y2="387.5" stroke="#6e6e6e" stroke-width="1" />
<text x="504.09473684210525" y="392.9" font-size="4.9" text-anchor="middle" font-weight="bold" fill="#111" stroke="#111" stroke-width="0.2">18</text>
<line x1="516.4" y1="385.5" x2="516.4" y2="387.5" stroke="#6e6e6e" stroke-width="1" />
<text x="516.4" y="392.9" font-size="4.9" text-anchor="middle" font-weight="bold" fill="#111" stroke="#111" stroke-width="0.2">19</text>
<line x1="294.5" y1="229.4" x2="294.5" y2="385.5" stroke="#000" stroke-width="1" stroke-dasharray="2,1.5"/>
<line x1="282.6" y1="321.5" x2="516.4" y2="321.5" stroke="#000" stroke-width="1" stroke-dasharray="2,1.5"/>
<text x="0" y="0" font-size="6.8" font-weight="bold" text-anchor="middle" fill="#111" transform="translate(265.4,306.8) rotate(-90)">HbA<tspan font-size="4.6" dy="1.6">2</tspan><tspan dy="-1.6"> (%)</tspan></text>
<text x="400" y="401.6" font-size="7" text-anchor="middle" font-weight="bold" fill="#111" >HbF (%)</text>
<circle cx="286.1" cy="273.4" r="1.4000000000000001" fill="#000"/>
<circle cx="289.8" cy="279" r="1.4000000000000001" fill="#000"/>
<circle cx="286.2" cy="282.7" r="1.4000000000000001" fill="#000"/>
<circle cx="284.6" cy="284.6" r="1.4000000000000001" fill="#000"/>
<circle cx="294.8" cy="282.2" r="1.4000000000000001" fill="#000"/>
<circle cx="296" cy="284" r="1.4000000000000001" fill="#000"/>
<circle cx="293.5" cy="286.1" r="1.4000000000000001" fill="#000"/>
<circle cx="297.2" cy="287.7" r="1.4000000000000001" fill="#000"/>
<circle cx="286" cy="287.9" r="1.4000000000000001" fill="#000"/>
<circle cx="292.7" cy="290" r="1.4000000000000001" fill="#000"/>
<circle cx="293.9" cy="290.6" r="1.4000000000000001" fill="#000"/>
<circle cx="285.3" cy="291.5" r="1.4000000000000001" fill="#000"/>
<circle cx="287.4" cy="291.5" r="1.4000000000000001" fill="#000"/>
<circle cx="293" cy="295.2" r="1.4000000000000001" fill="#000"/>
<circle cx="295.5" cy="295.2" r="1.4000000000000001" fill="#000"/>
<circle cx="298" cy="295.5" r="1.4000000000000001" fill="#000"/>
<circle cx="296" cy="298" r="1.4000000000000001" fill="#000"/>
<circle cx="294.5" cy="300.3" r="1.4000000000000001" fill="#000"/>
<circle cx="292.8" cy="301.3" r="1.4000000000000001" fill="#000"/>
<circle cx="285.2" cy="296.7" r="1.4000000000000001" fill="#000"/>
<circle cx="285.9" cy="298.2" r="1.4000000000000001" fill="#000"/>
<circle cx="289.7" cy="297.1" r="1.4000000000000001" fill="#000"/>
<circle cx="300.8" cy="298.9" r="1.4000000000000001" fill="#000"/>
<circle cx="307.1" cy="297.2" r="1.4000000000000001" fill="#000"/>
<circle cx="288.5" cy="300.8" r="1.4000000000000001" fill="#000"/>
<circle cx="291.9" cy="301" r="1.4000000000000001" fill="#000"/>
<circle cx="295.2" cy="303.4" r="1.4000000000000001" fill="#000"/>
<circle cx="297.1" cy="303.7" r="1.4000000000000001" fill="#000"/>
<circle cx="295.2" cy="305.6" r="1.4000000000000001" fill="#000"/>
<circle cx="297.4" cy="305.4" r="1.4000000000000001" fill="#000"/>
<circle cx="295.2" cy="306.7" r="1.4000000000000001" fill="#000"/>
<circle cx="284.6" cy="304.5" r="1.4000000000000001" fill="#000"/>
<circle cx="287.2" cy="306.3" r="1.4000000000000001" fill="#000"/>
<circle cx="292.2" cy="309.2" r="1.4000000000000001" fill="#000"/>
<circle cx="297.1" cy="317.5" r="1.4000000000000001" fill="#000"/>
<circle cx="321.9" cy="293.7" r="1.4000000000000001" fill="#000"/>
<circle cx="333" cy="297.1" r="1.4000000000000001" fill="#000"/>
<circle cx="339.2" cy="238.3" r="1.4000000000000001" fill="#d01818"/>
<circle cx="332.9" cy="247.7" r="1.4000000000000001" fill="#d01818"/>
<circle cx="332.9" cy="251.2" r="1.4000000000000001" fill="#d01818"/>
<circle cx="331.9" cy="266.9" r="1.4000000000000001" fill="#d01818"/>
<circle cx="362.7" cy="264.2" r="1.4000000000000001" fill="#d01818"/>
<circle cx="370" cy="256.5" r="1.4000000000000001" fill="#d01818"/>
<circle cx="370" cy="258.8" r="1.4000000000000001" fill="#d01818"/>
<circle cx="379.6" cy="265.2" r="1.4000000000000001" fill="#d01818"/>
<circle cx="385" cy="264.2" r="1.4000000000000001" fill="#d01818"/>
<circle cx="384.4" cy="279" r="1.4000000000000001" fill="#d01818"/>
<circle cx="386.3" cy="281" r="1.4000000000000001" fill="#d01818"/>
<circle cx="403.1" cy="291.5" r="1.4000000000000001" fill="#d01818"/>
<circle cx="485.7" cy="275.2" r="1.4000000000000001" fill="#d01818"/>
<circle cx="506.7" cy="290" r="1.4000000000000001" fill="#d01818"/>
<circle cx="456.3" cy="368" r="1.344" fill="#000"/>
<text x="463.4" y="371.4" font-size="6.6" fill="#111"><tspan font-size="7.2">&#946;</tspan><tspan font-size="4.6" dy="-2.9">0</tspan><tspan font-size="7.2" dy="2.9">&#946;</tspan><tspan font-size="4.6" dx="1.2" dy="-2.9">N</tspan></text>
<circle cx="456.3" cy="379.5" r="1.344" fill="#d01818"/>
<text x="463.4" y="383" font-size="6.6" fill="#111"><tspan font-size="7.2">&#946;</tspan><tspan font-size="4.6" dy="-2.9">0</tspan><tspan font-size="7.2" dy="2.9">&#946;</tspan><tspan font-size="4.6" dx="1.2" dy="-2.9">N</tspan><tspan dx="0.8" dy="2.9"> + KLF1</tspan><tspan font-size="4.5" dy="-3">wt/mu</tspan></text>
</svg>
</body></html>
